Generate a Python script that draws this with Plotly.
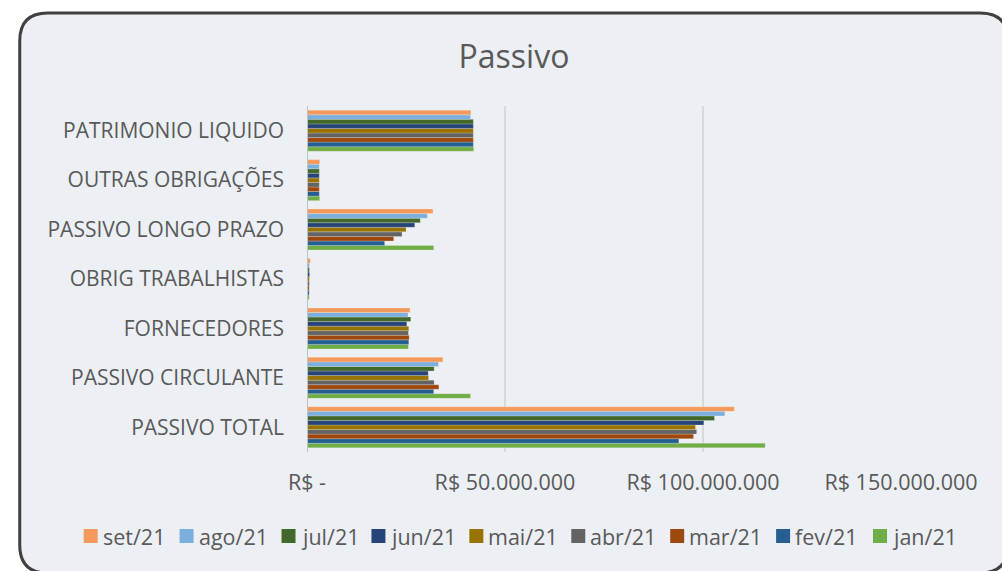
import plotly.graph_objects as go

categories = ["PASSIVO TOTAL", "PASSIVO CIRCULANTE", "FORNECEDORES", "OBRIG TRABALHISTAS",
              "PASSIVO LONGO PRAZO", "OUTRAS OBRIGAÇÕES", "PATRIMONIO LIQUIDO"]

# values in R$ millions, order follows categories
jan21 = [115.7, 41.3, 25.6, 0.55, 32.0, 3.2, 42.1]
fev21 = [93.9, 32.0, 25.7, 0.55, 19.6, 3.1, 42.0]
mar21 = [97.6, 33.3, 25.8, 0.55, 21.9, 3.1, 42.0]
abr21 = [98.4, 32.1, 25.6, 0.6, 24.0, 3.1, 42.0]
mai21 = [98.1, 30.7, 25.7, 0.6, 25.0, 3.1, 42.0]
jun21 = [100.2, 30.6, 25.2, 0.65, 27.2, 3.1, 42.0]
jul21 = [102.9, 32.1, 26.2, 0.6, 28.6, 3.1, 42.0]
ago21 = [105.5, 33.2, 25.5, 0.6, 30.4, 3.1, 41.3]
set21 = [107.9, 34.3, 26.0, 0.85, 31.8, 3.2, 41.4]

series_names = ["jan/21", "fev/21", "mar/21", "abr/21", "mai/21", "jun/21", "jul/21", "ago/21", "set/21"]
series_values = [jan21, fev21, mar21, abr21, mai21, jun21, jul21, ago21, set21]
series_colors = ["#70AD47", "#255E91", "#9E480E", "#636363", "#997300", "#264478", "#43682B", "#7CAFDD", "#F4995B"]

tick_vals = [0, 50e6, 100e6, 150e6]
tick_text = ["R$ -", "R$ 50.000.000", "R$ 100.000.000", "R$ 150.000.000"]

W, H = 1002, 571
ML, MR, MT, MB = 306.5, 101, 106, 119
PW, PH = W - ML - MR, H - MT - MB

def px(x):
    return (x - ML) / PW

def py(y):
    return 1 - (y - MT) / PH

font_fam = "'Open Sans', sans-serif"
txt_col = "#595959"

fig = go.Figure()
for name, vals, col in zip(series_names, series_values, series_colors):
    fig.add_trace(go.Bar(
        y=categories, x=[v * 1e6 for v in vals], name=name, orientation="h",
        marker=dict(color=col, line=dict(color="rgba(255,255,255,0.35)", width=0.6)),
        showlegend=False,
    ))

# rounded frame
x0, x1, y0, y1, r = 19, 1008, 13, 573, 28
path = (f"M {px(x0+r)},{py(y0)} L {px(x1-r)},{py(y0)} "
        f"Q {px(x1)},{py(y0)} {px(x1)},{py(y0+r)} L {px(x1)},{py(y1-r)} "
        f"Q {px(x1)},{py(y1)} {px(x1-r)},{py(y1)} L {px(x0+r)},{py(y1)} "
        f"Q {px(x0)},{py(y1)} {px(x0)},{py(y1-r)} L {px(x0)},{py(y0+r)} "
        f"Q {px(x0)},{py(y0)} {px(x0+r)},{py(y0)} Z")
shapes = [dict(type="path", path=path, xref="paper", yref="paper",
               fillcolor="#ECEFF3", line=dict(color="#404040", width=3), layer="below")]
annotations = []

# custom legend (set/21 first, as in the reference)
legend_x = [83, 179, 281, 371, 469, 571, 670, 776, 873]
legend_y = 536
sq = 14
for lx, name, col in zip(legend_x, series_names[::-1], series_colors[::-1]):
    shapes.append(dict(type="rect", xref="paper", yref="paper",
                       x0=px(lx), x1=px(lx + sq), y0=py(legend_y - sq / 2), y1=py(legend_y + sq / 2),
                       fillcolor=col, line=dict(width=0)))
    annotations.append(dict(text=name, xref="paper", yref="paper", x=px(lx + sq + 3), y=py(legend_y),
                            xanchor="left", yanchor="middle", showarrow=False,
                            font=dict(size=21.5, color=txt_col, family=font_fam)))

shapes.append(dict(type="line", xref="x", yref="paper", x0=0, x1=0, y0=0, y1=1,
                   line=dict(color="#BFBFBF", width=2), layer="above"))

fig.update_layout(
    width=W, height=H,
    margin=dict(l=ML, r=MR, t=MT, b=MB, pad=0),
    paper_bgcolor="white",
    plot_bgcolor="#ECEFF3",
    barmode="group",
    bargap=0.17,
    bargroupgap=0,
    showlegend=False,
    font=dict(family=font_fam, color=txt_col, size=18),
    title=dict(text="Passivo", x=514 / W, xref="container", xanchor="center",
               y=1 - 57 / H, yref="container", yanchor="middle",
               font=dict(size=32, color=txt_col, family=font_fam)),
    shapes=shapes,
    annotations=annotations,
    xaxis=dict(range=[0, 150e6], tickvals=tick_vals, ticktext=tick_text,
               showgrid=True, gridcolor="#D9D9D9", gridwidth=1.5, zeroline=False,
               showline=False, ticks="", ticklabelstandoff=15,
               tickfont=dict(size=21.5, color=txt_col)),
    yaxis=dict(categoryorder="array", categoryarray=categories, range=[-0.5, 6.5],
               showgrid=False, zeroline=False, showline=False, ticks="",
               ticklabelstandoff=22, tickfont=dict(size=21, color=txt_col)),
)

fig.write_html("out.html", config={"displayModeBar": False},
               post_script="document.body.style.margin='0';document.body.style.overflow='hidden';")
